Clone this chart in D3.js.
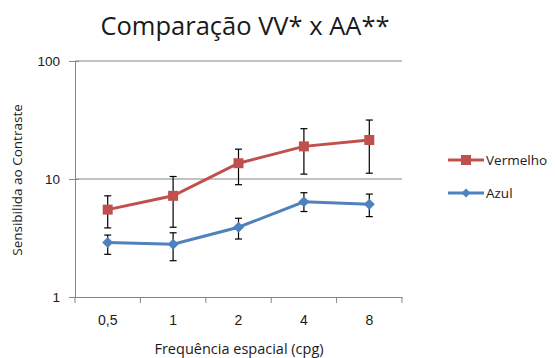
<!DOCTYPE html>
<html><head><meta charset="utf-8">
<script src="https://cdn.jsdelivr.net/npm/d3@7"></script>
<style>body{margin:0;background:#fff;}svg{display:block;font-family:"Open Sans","Liberation Sans",sans-serif;}</style>
</head><body>
<svg id="c" width="555" height="358"></svg>
<script>
const categories = ["0,5","1","2","4","8"];
const redValues = [5.5, 7.2, 13.6, 18.9, 21.4];
const redHigh = [7.2, 10.5, 17.9, 26.7, 31.6];
const redLow = [3.85, 3.9, 8.95, 11.0, 11.2];
const blueValues = [2.9, 2.8, 3.9, 6.4, 6.1];
const blueHigh = [3.35, 3.5, 4.65, 7.65, 7.45];
const blueLow = [2.3, 2.03, 3.1, 5.3, 4.8];
const yTicks = [1, 10, 100];
const seriesNames = ["Vermelho", "Azul"];

const svg = d3.select("#c");
const pLeft = 75, pRight = 402, pTop = 61, pBottom = 297;
const x = d3.scaleBand().domain(categories).range([pLeft, pRight]);
const y = d3.scaleLog().domain([1, 100]).range([pBottom, pTop]);
const red = "#C0504D", blue = "#4F81BD", axisCol = "#868686", txt = "#1a1a1a";

// gridlines
svg.append("g").selectAll("line").data(yTicks.slice(1)).join("line")
  .attr("x1", pLeft).attr("x2", pRight).attr("y1", d => y(d)).attr("y2", d => y(d))
  .attr("stroke", axisCol).attr("stroke-width", 1);

// y axis
const ya = svg.append("g").attr("transform", `translate(${pLeft},0)`)
  .call(d3.axisLeft(y).tickValues(yTicks).tickFormat(d3.format("d")).tickSize(6).tickPadding(9));
ya.select(".domain").attr("stroke", axisCol);
ya.selectAll(".tick line").attr("stroke", axisCol).attr("x2", -6).attr("x1", 4);
ya.selectAll("text").attr("font-size", 13.5).attr("fill", txt);

// x axis
const xa = svg.append("g").attr("transform", `translate(0,${pBottom})`)
  .call(d3.axisBottom(x).tickSize(0).tickPadding(18));
xa.select(".domain").attr("stroke", axisCol);
xa.selectAll("text").attr("font-size", 14).attr("fill", txt);
const bounds = categories.map(c => x(c)).concat([pRight]);
svg.append("g").selectAll("line").data(bounds).join("line")
  .attr("x1", d => d).attr("x2", d => d).attr("y1", pBottom).attr("y2", pBottom + 6)
  .attr("stroke", axisCol);

const cx = c => x(c) + x.bandwidth() / 2;

function drawSeries(vals, hi, lo, color, marker) {
  const g = svg.append("g");
  categories.forEach((c, i) => {
    const px = cx(c);
    g.append("line").attr("x1", px).attr("x2", px).attr("y1", y(hi[i])).attr("y2", y(lo[i])).attr("stroke", "#000").attr("stroke-width", 1.2);
    [hi[i], lo[i]].forEach(v => g.append("line").attr("x1", px - 3.5).attr("x2", px + 3.5).attr("y1", y(v)).attr("y2", y(v)).attr("stroke", "#000").attr("stroke-width", 1.2));
  });
  g.append("path").datum(vals)
    .attr("d", d3.line().x((d, i) => cx(categories[i])).y(d => y(d)))
    .attr("fill", "none").attr("stroke", color).attr("stroke-width", 3);
  g.selectAll(".m").data(vals).join("path")
    .attr("transform", (d, i) => `translate(${cx(categories[i])},${y(d)})`)
    .attr("d", marker).attr("fill", color);
}
const sq = "M-5,-5H5V5H-5Z";
const dm = "M0,-5.5L5.5,0L0,5.5L-5.5,0Z";
drawSeries(redValues, redHigh, redLow, red, sq);
drawSeries(blueValues, blueHigh, blueLow, blue, dm);

// legend
const leg = [{n: seriesNames[0], c: red, m: sq, y: 160}, {n: seriesNames[1], c: blue, m: "M0,-4.5L4.5,0L0,4.5L-4.5,0Z", y: 193}];
leg.forEach(l => {
  svg.append("line").attr("x1", 448).attr("x2", 484).attr("y1", l.y).attr("y2", l.y).attr("stroke", l.c).attr("stroke-width", 3);
  svg.append("path").attr("transform", `translate(466,${l.y})`).attr("d", l.m).attr("fill", l.c);
  svg.append("text").attr("x", 486).attr("y", l.y).attr("dy", "0.35em").attr("font-size", 13.5).attr("fill", txt).text(l.n);
});

// title
svg.append("text").attr("x", 245).attr("y", 35).attr("text-anchor", "middle")
  .attr("font-size", 25.5).attr("fill", txt).text("Comparação VV* x AA**");
// axis titles
svg.append("text").attr("x", 239).attr("y", 354).attr("text-anchor", "middle")
  .attr("font-size", 14.5).attr("fill", txt).text("Frequência espacial (cpg)");
svg.append("text").attr("transform", "translate(22,180) rotate(-90)").attr("text-anchor", "middle")
  .attr("font-size", 13.5).attr("fill", txt).text("Sensibilida ao Contraste");
</script>
</body></html>
